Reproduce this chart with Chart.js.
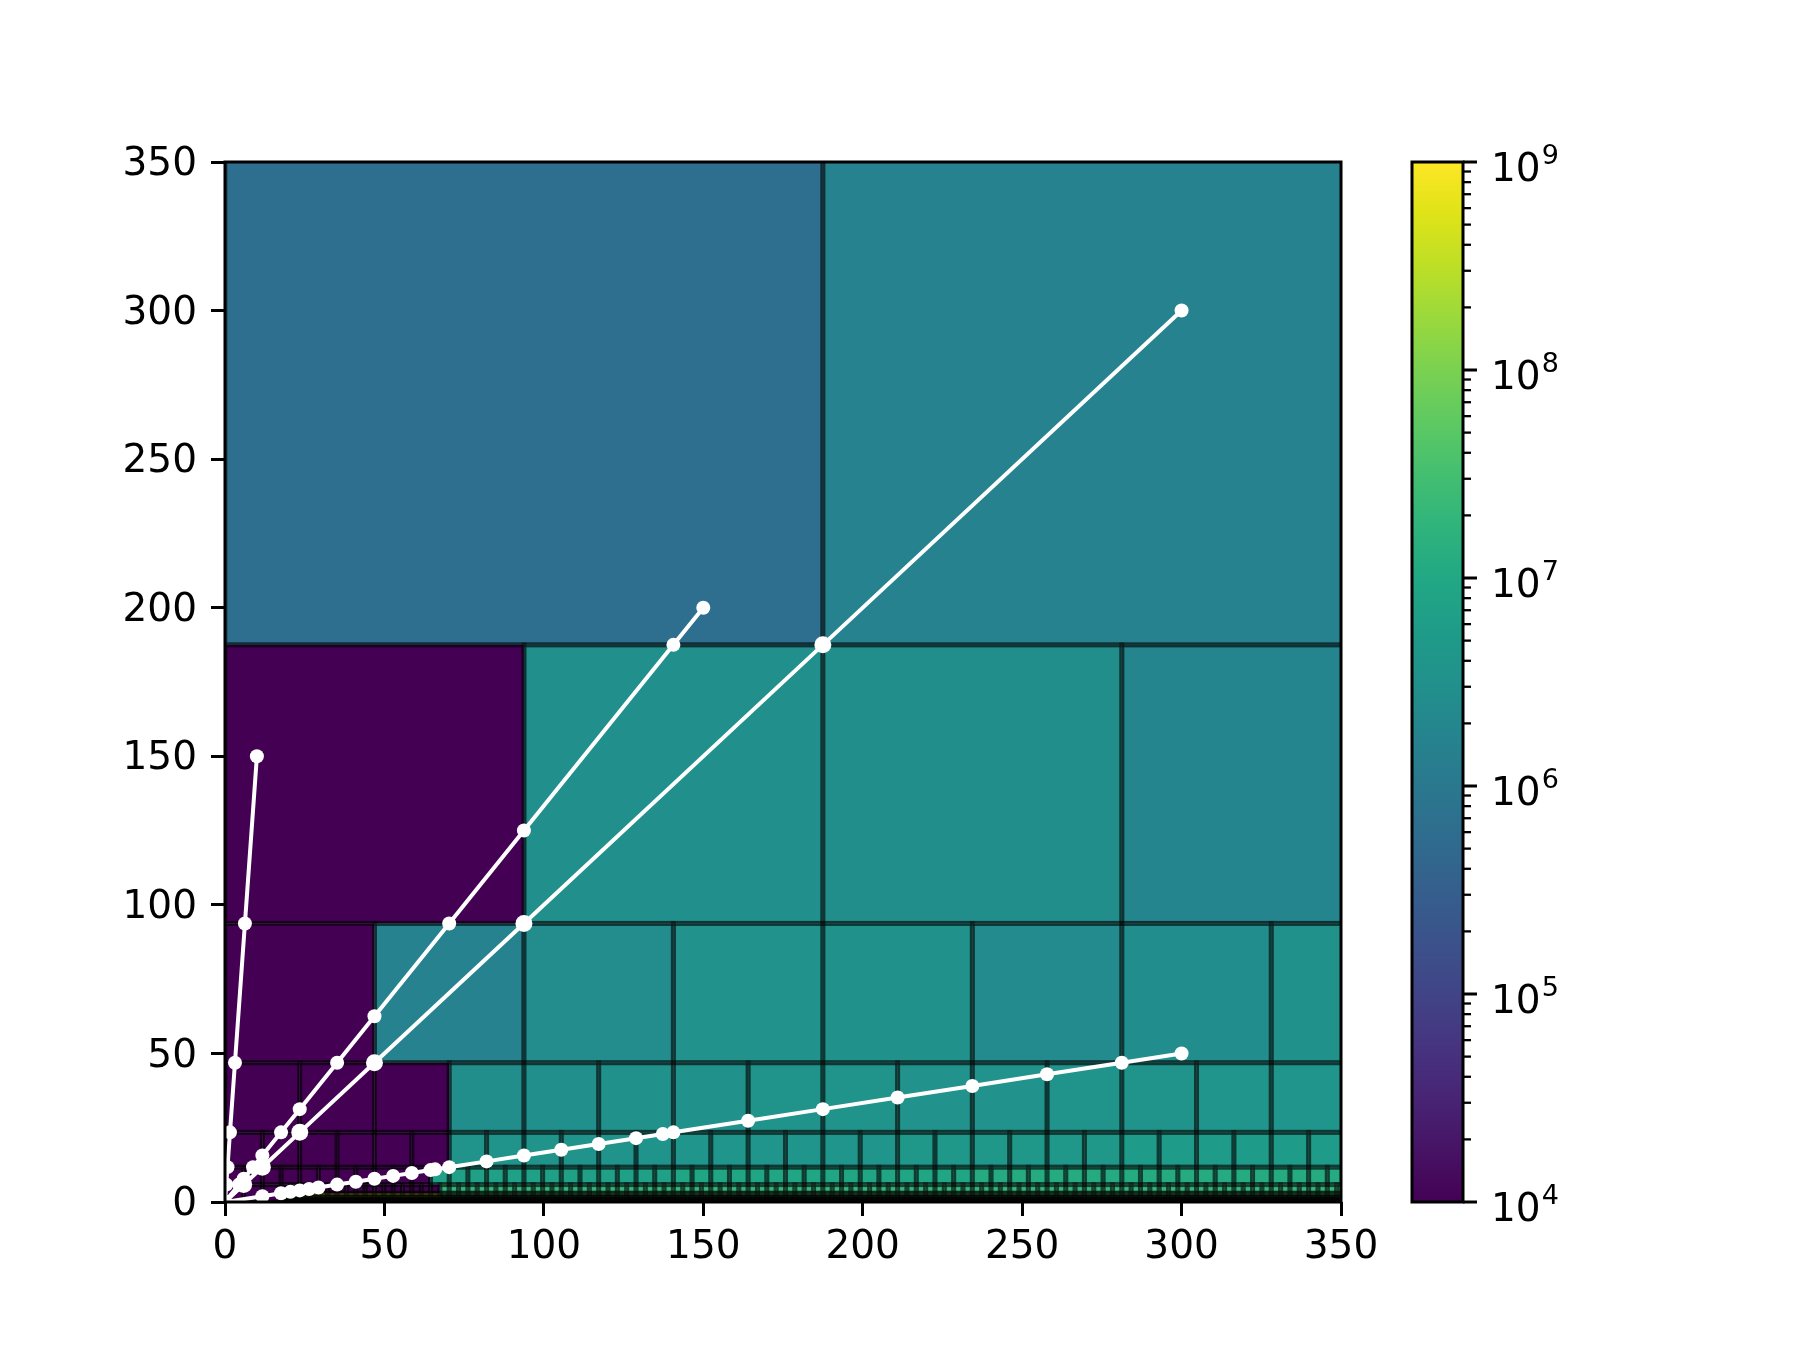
<!DOCTYPE html>
<html lang="en">
<head>
<meta charset="UTF-8">
<title>Adaptive mesh with rays</title>
<script src="https://cdn.jsdelivr.net/npm/chart.js"></script>
<style>
  body { margin: 0; background: #fff; }
  #wrap { position: relative; width: 1800px; height: 1350px; }
  #wrap canvas { position: absolute; left: 0; top: 0; }
</style>
</head>
<body>
<div id="wrap">
  <canvas id="mesh" width="1800" height="1350"></canvas>
  <canvas id="cbar" width="1800" height="1350"></canvas>
</div>
<script>
// axis ticks
const xTicks = [0, 50, 100, 150, 200, 250, 300, 350];
const yTicks = [0, 50, 100, 150, 200, 250, 300, 350];
const cbarExponents = [4, 5, 6, 7, 8, 9];

// mesh rows (top edge of each row, cells are square: width = row height)
const rowTops = [375, 187.5, 93.75, 46.875, 23.4375, 11.71875, 5.859375, 2.9296875, 1.46484375, 0.732421875];
// runs of [end x, log10 value] per row
const row0 = [[187.5, 5.8], [375, 6.2]];
const row1 = [[93.75, 3.7], [187.5, 6.47], [281.25, 6.45], [375, 6.27]];
const row2 = [[46.875, 3.7], [93.75, 6.2], [140.625, 6.4], [187.5, 6.53], [234.375, 6.5], [281.25, 6.38], [328.125, 6.43], [375, 6.5]];
const row3 = [[70.3125, 3.7], [93.75, 6.45], [117.1875, 6.48], [140.625, 6.5], [164.0625, 6.5], [187.5, 6.55], [210.9375, 6.55],
              [234.375, 6.52], [257.8125, 6.52], [281.25, 6.55], [304.6875, 6.57], [328.125, 6.6], [375, 6.6]];
const row4 = [[70.3125, 3.7], [140.625, 6.55], [210.9375, 6.6], [281.25, 6.65], [375, 6.75]];
const row5 = [[64.453125, 3.7], [140.625, 6.85], [234.375, 6.95], [375, 7.05]];
const row6 = [[67.3828125, 3.7], [375, 7.3]];
const row7 = [[67.3828125, 8.7], [375, 7.5]];
const row8 = [[375, 7.6]];
const row9 = [[375, 7.6]];
const rowRuns = [row0, row1, row2, row3, row4, row5, row6, row7, row8, row9];
const fineStart = 17.578125;          // finest rows start right of the coarse corner block
const cornerBlock = [[0, 5.859375], [5.859375, 11.71875], [11.71875, 17.578125]];
const cornerTop = 5.859375;
const cornerValue = 3.7;

// rays (points where they cross cell faces)
const rayAX = [0, 0.39, 0.78, 1.5625, 3.125, 6.25, 10];
const rayAY = [0, 5.86, 11.72, 23.44, 46.875, 93.75, 150];
const rayBX = [0, 4.39, 5.86, 8.79, 11.72, 17.58, 23.44, 35.16, 46.875, 70.31, 93.75, 140.63, 150];
const rayBY = [0, 5.86, 7.81, 11.72, 15.63, 23.44, 31.25, 46.875, 62.5, 93.75, 125, 187.5, 200];
const rayCX = [0, 5.86, 11.72, 23.44, 46.875, 93.75, 187.5, 300];
const rayCY = [0, 5.86, 11.72, 23.44, 46.875, 93.75, 187.5, 300];
const rayDX = [0, 11.72, 17.58, 20.51, 23.44, 26.37, 29.3, 35.16, 41.02, 46.875, 52.73, 58.59, 64.45, 65.9, 70.31,
               82.03, 93.75, 105.47, 117.19, 128.91, 137.3, 140.63, 164.06, 187.5, 210.94, 234.38, 257.81, 281.25, 300];
const rayDY = [0, 1.95, 2.93, 3.42, 3.91, 4.39, 4.88, 5.86, 6.84, 7.81, 8.79, 9.77, 10.74, 10.98, 11.72,
               13.67, 15.63, 17.58, 19.53, 21.48, 22.88, 23.44, 27.34, 31.25, 35.16, 39.06, 42.97, 46.875, 50];

const VIRIDIS = [
  [68,1,84],[71,19,101],[72,36,117],[70,52,128],[65,68,135],[59,82,139],[53,95,141],
  [47,108,142],[42,120,142],[37,132,142],[33,145,140],[30,156,137],[34,168,132],
  [47,180,124],[68,191,112],[94,201,98],[122,209,81],[154,217,60],[189,223,38],
  [223,227,24],[253,231,37]
];
function viridis(t) {
  t = Math.max(0, Math.min(1, t));
  const p = t * (VIRIDIS.length - 1), i = Math.min(Math.floor(p), VIRIDIS.length - 2), f = p - i;
  const c = VIRIDIS[i].map((v, k) => Math.round(v + (VIRIDIS[i + 1][k] - v) * f));
  return `rgb(${c[0]},${c[1]},${c[2]})`;
}
const logMin = 4, logMax = 9;
const cellColor = v => viridis((v - logMin) / (logMax - logMin));

function buildCells() {
  const cells = [];
  rowTops.forEach((top, i) => {
    const bottom = i + 1 < rowTops.length ? rowTops[i + 1] : 0;
    const size = top - bottom;
    const runs = rowRuns[i];
    for (let x0 = top <= cornerTop ? fineStart : 0; x0 < 350; x0 += size) {
      const mid = x0 + size / 2;
      const run = runs.find(r => mid < r[0]) || runs[runs.length - 1];
      cells.push({ x0, x1: x0 + size, y0: bottom, y1: top, v: run[1] });
    }
  });
  cornerBlock.forEach(([a, b]) => cells.push({ x0: a, x1: b, y0: 0, y1: cornerTop, v: cornerValue }));
  return cells;
}

const meshPlugin = {
  id: 'mesh',
  beforeDatasetsDraw(chart) {
    const { ctx, chartArea: a, scales: { x, y } } = chart;
    const cells = buildCells();
    const box = c => {
      const l = x.getPixelForValue(c.x0), r = x.getPixelForValue(c.x1);
      const t = y.getPixelForValue(c.y1), b = y.getPixelForValue(c.y0);
      return [l, t, r - l, b - t];
    };
    ctx.save();
    ctx.beginPath();
    ctx.rect(a.left, a.top, a.right - a.left, a.bottom - a.top);
    ctx.clip();
    cells.forEach(c => { ctx.fillStyle = cellColor(c.v); ctx.fillRect(...box(c)); });
    ctx.strokeStyle = 'rgba(0,0,0,0.38)';
    ctx.lineWidth = 5;
    cells.forEach(c => ctx.strokeRect(...box(c)));
    ctx.restore();
  }
};

const framePlugin = {
  id: 'frame',
  afterDatasetsDraw(chart) {
    const { ctx, chartArea: a } = chart;
    ctx.save();
    ctx.strokeStyle = '#000';
    ctx.lineWidth = 3;
    ctx.strokeRect(a.left, a.top, a.right - a.left, a.bottom - a.top);
    ctx.restore();
  }
};

const tickFont = { family: 'DejaVu Sans', size: 39 };
const axisOpts = (ticks, fitKey, pad, shift) => ({
  type: 'linear', min: 0, max: 350,
  afterBuildTicks: s => { s.ticks = ticks.map(v => ({ value: v })); },
  afterFit: s => { s[fitKey] = 100; },
  grid: { display: true, drawOnChartArea: false, drawTicks: true, tickLength: 14, lineWidth: 3, color: '#000' },
  border: { display: false },
  ticks: { color: '#000', font: tickFont, padding: pad, labelOffset: shift, maxRotation: 0, autoSkip: false }
});

const ray = (xs, ys, big) => ({
  data: xs.map((v, i) => ({ x: v, y: ys[i] })),
  showLine: true,
  borderColor: '#fff',
  borderWidth: 4,
  pointBackgroundColor: '#fff',
  pointBorderWidth: 0,
  pointRadius: c => (big && c.dataIndex > 0 && c.dataIndex < xs.length - 1 ? 8.5 : 7),
  clip: 0
});

new Chart(document.getElementById('mesh'), {
  type: 'scatter',
  data: {
    datasets: [
      ray(rayAX, rayAY, false),
      ray(rayBX, rayBY, false),
      ray(rayCX, rayCY, true),
      ray(rayDX, rayDY, false)
    ]
  },
  options: {
    responsive: false,
    animation: false,
    layout: { padding: { left: 125, right: 459, top: 162, bottom: 48 } },
    plugins: { legend: { display: false }, tooltip: { enabled: false } },
    scales: { x: axisOpts(xTicks, 'height', 8, 0), y: axisOpts(yTicks, 'width', 14, 3) }
  },
  plugins: [meshPlugin, framePlugin]
});

// colour bar
const cbarPlugin = {
  id: 'cbar',
  afterDraw(chart) {
    const { ctx, chartArea: a, scales: { y } } = chart;
    ctx.save();
    const g = ctx.createLinearGradient(0, a.bottom, 0, a.top);
    VIRIDIS.forEach((c, i) => g.addColorStop(i / (VIRIDIS.length - 1), `rgb(${c[0]},${c[1]},${c[2]})`));
    ctx.fillStyle = g;
    ctx.fillRect(a.left, a.top, a.right - a.left, a.bottom - a.top);
    ctx.strokeStyle = '#000';
    ctx.lineWidth = 3;
    ctx.strokeRect(a.left, a.top, a.right - a.left, a.bottom - a.top);
    // minor ticks
    ctx.lineWidth = 2.3;
    cbarExponents.slice(0, -1).forEach(e => {
      for (let m = 2; m <= 9; m++) {
        const py = y.getPixelForValue(m * Math.pow(10, e));
        ctx.beginPath(); ctx.moveTo(a.right, py); ctx.lineTo(a.right + 8, py); ctx.stroke();
      }
    });
    // major ticks + labels
    ctx.lineWidth = 3;
    ctx.fillStyle = '#000';
    ctx.textBaseline = 'alphabetic';
    ctx.textAlign = 'left';
    cbarExponents.forEach(e => {
      const py = y.getPixelForValue(Math.pow(10, e));
      ctx.beginPath(); ctx.moveTo(a.right, py); ctx.lineTo(a.right + 14, py); ctx.stroke();
      const lx = a.right + 28, base = py + 19;
      ctx.font = '39px "DejaVu Sans"';
      ctx.fillText('10', lx, base);
      const w = ctx.measureText('10').width;
      ctx.font = '27px "DejaVu Sans"';
      ctx.fillText(String(e), lx + w + 1, base - 17);
    });
    ctx.restore();
  }
};

new Chart(document.getElementById('cbar'), {
  type: 'scatter',
  data: { datasets: [] },
  options: {
    responsive: false,
    animation: false,
    layout: { padding: { left: 1412, right: 137, top: 162, bottom: 148 } },
    plugins: { legend: { display: false }, tooltip: { enabled: false } },
    scales: {
      x: { display: false, min: 0, max: 1 },
      y: {
        type: 'logarithmic', position: 'right', min: 1e4, max: 1e9,
        afterFit: s => { s.width = 200; },
        grid: { display: false }, border: { display: false }, ticks: { display: false }
      }
    }
  },
  plugins: [cbarPlugin]
});
</script>
</body>
</html>
